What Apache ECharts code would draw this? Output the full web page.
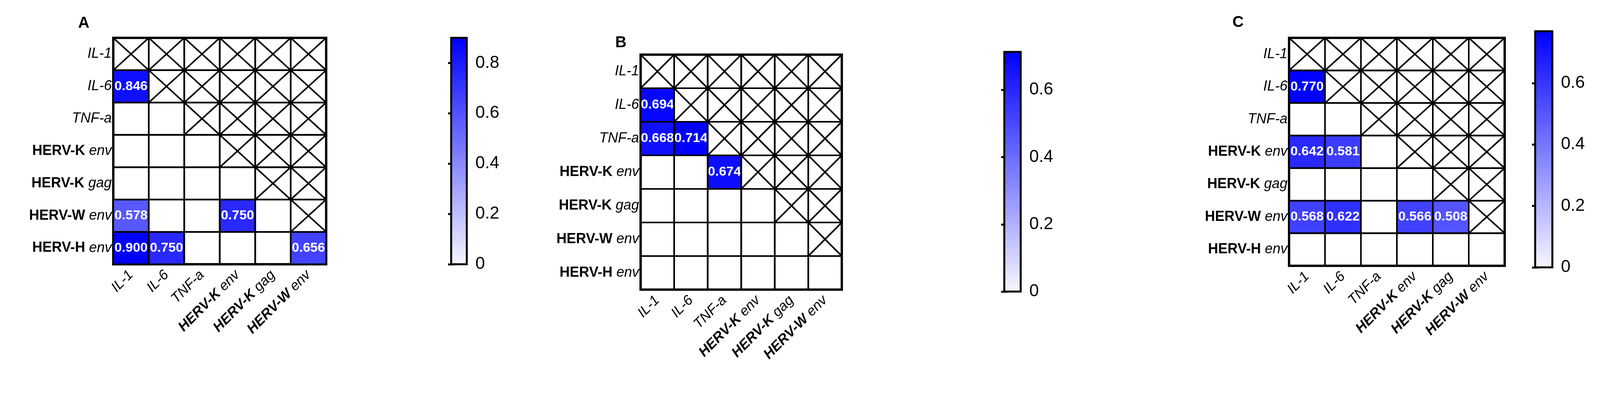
<![CDATA[<!DOCTYPE html>
<html><head><meta charset="utf-8">
<script src="https://cdn.jsdelivr.net/npm/echarts@6/dist/echarts.min.js"></script>
<style>html,body{margin:0;padding:0;background:#fff}#c{width:4223px;height:1012px}</style>
</head><body><div id="c"></div>
<script>
const categories = ['IL-1','IL-6','TNF-a','HERV-K env','HERV-K gag','HERV-W env','HERV-H env'];
const xCategories = ['IL-1','IL-6','TNF-a','HERV-K env','HERV-K gag','HERV-W env'];
const panelTitles = ['A','B','C'];
// [xIndex, yIndex, value]
const valuesA = [[0,1,0.846],[0,5,0.578],[3,5,0.750],[0,6,0.900],[1,6,0.750],[5,6,0.656]];
const valuesB = [[0,1,0.694],[0,2,0.668],[1,2,0.714],[2,3,0.674]];
const valuesC = [[0,1,0.770],[0,3,0.642],[1,3,0.581],[0,5,0.568],[1,5,0.622],[3,5,0.566],[4,5,0.508]];
const colorMax = [0.9, 0.713, 0.769];

const FONT = "'Liberation Sans Narrow','Liberation Sans',Arial,sans-serif";
const layout = [
  {grid:{left:290,top:97,width:545,height:580}, bar:{left:1155,top:97,width:40,height:580}, title:[200,40]},
  {grid:{left:1640,top:140,width:515,height:602}, bar:{left:2571,top:133,width:42,height:614}, title:[1575,90]},
  {grid:{left:3300,top:97,width:552,height:584}, bar:{left:3930,top:80,width:44,height:605}, title:[3155,38]}
];
const dataSets = [valuesA, valuesB, valuesC];

function labelRich(v){
  const m = v.match(/^(HERV-[KWH]) (\w+)$/);
  if(m) return '{b|'+m[1]+' }{i|'+m[2]+'}';
  return '{i|'+v+'}';
}
const richY = {b:{fontFamily:FONT,fontWeight:'bold',fontSize:36,color:'#000'}, i:{fontFamily:FONT,fontStyle:'italic',fontSize:36,color:'#000'}};
const richX = {b:{fontFamily:FONT,fontWeight:'bold',fontStyle:'italic',fontSize:36,color:'#000'}, i:{fontFamily:FONT,fontStyle:'italic',fontSize:36,color:'#000'}};

const cellData = [];
for(let y=0;y<categories.length;y++) for(let x=0;x<xCategories.length;x++) cellData.push([x,y,x>=y?1:0]);

const grids=[], xAxes=[], yAxes=[], series=[], visualMaps=[], graphics=[];
layout.forEach((L,p)=>{
  grids.push(Object.assign({show:true,borderColor:'#000',borderWidth:6,backgroundColor:'#fff'},L.grid));
  grids.push(Object.assign({show:true,borderColor:'#000',borderWidth:5,backgroundColor:'transparent',z:10},L.bar));
  const gi=2*p;
  const ax=xAxes.length, ay=yAxes.length;
  xAxes.push({type:'category',gridIndex:gi,data:xCategories,position:'bottom',
    axisLine:{lineStyle:{color:'#000',width:6}},
    axisTick:{alignWithLabel:true,length:14,lineStyle:{color:'#000',width:5}},
    axisLabel:{rotate:45,margin:22,formatter:v=>labelRich(v),rich:richX}});
  yAxes.push({type:'category',gridIndex:gi,data:categories,inverse:true,
    axisLine:{lineStyle:{color:'#000',width:6}},
    axisTick:{alignWithLabel:true,length:12,lineStyle:{color:'#000',width:5}},
    axisLabel:{margin:4,formatter:v=>labelRich(v),rich:richY}});
  xAxes.push({type:'value',gridIndex:gi+1,show:false});
  yAxes.push({type:'value',gridIndex:gi+1,position:'right',min:0,max:colorMax[p],interval:0.2,
    axisLine:{show:false},splitLine:{show:false},
    axisTick:{show:true,inside:true,length:8,lineStyle:{color:'#000',width:5}},
    axisLabel:{margin:22,showMaxLabel:false,fontFamily:FONT,fontSize:44,color:'#000',formatter:v=>v===0?'0':v.toFixed(1)}});
  yAxes.push({type:'value',gridIndex:gi+1,position:'left',min:0,max:colorMax[p],interval:0.2,
    axisLine:{show:false},splitLine:{show:false},axisLabel:{show:false},
    axisTick:{show:true,inside:true,length:8,lineStyle:{color:'#000',width:5}}});
  series.push({type:'heatmap',xAxisIndex:ax,yAxisIndex:ay,data:dataSets[p],
    label:{show:true,formatter:d=>d.value[2].toFixed(3),color:'#fff',fontFamily:FONT,fontWeight:'bold',fontSize:34},
    itemStyle:{borderWidth:0}});
  visualMaps.push({type:'continuous',seriesIndex:series.length-1,min:0,max:colorMax[p],calculable:false,
    inRange:{color:['#f6f6ff','#0000ff']},left:L.bar.left,top:L.bar.top,itemWidth:L.bar.width,itemHeight:L.bar.height,
    text:['',''],padding:0,showLabel:false});
  series.push({type:'custom',xAxisIndex:ax,yAxisIndex:ay,data:cellData,z:5,
    renderItem:(params,api)=>{
      const c=api.coord([api.value(0),api.value(1)]);
      const s=api.size([1,1]);
      const x0=c[0]-s[0]/2,y0=c[1]-s[1]/2,x1=c[0]+s[0]/2,y1=c[1]+s[1]/2;
      const st={stroke:'#000',lineWidth:4,fill:null};
      const ch=[{type:'rect',shape:{x:x0,y:y0,width:s[0],height:s[1]},style:{stroke:'#000',lineWidth:4,fill:'none'}}];
      if(api.value(2)){
        ch.push({type:'line',shape:{x1:x0,y1:y0,x2:x1,y2:y1},style:st});
        ch.push({type:'line',shape:{x1:x0,y1:y1,x2:x1,y2:y0},style:st});
      }
      return {type:'group',children:ch};
    }});
  graphics.push({type:'text',left:L.title[0],top:L.title[1],style:{text:panelTitles[p],font:'bold 40px '+FONT,fill:'#000'}});
});

const chart=echarts.init(document.getElementById('c'));
chart.setOption({animation:false,grid:grids,xAxis:xAxes,yAxis:yAxes,series,visualMap:visualMaps,graphic:graphics});
</script></body></html>
]]>
